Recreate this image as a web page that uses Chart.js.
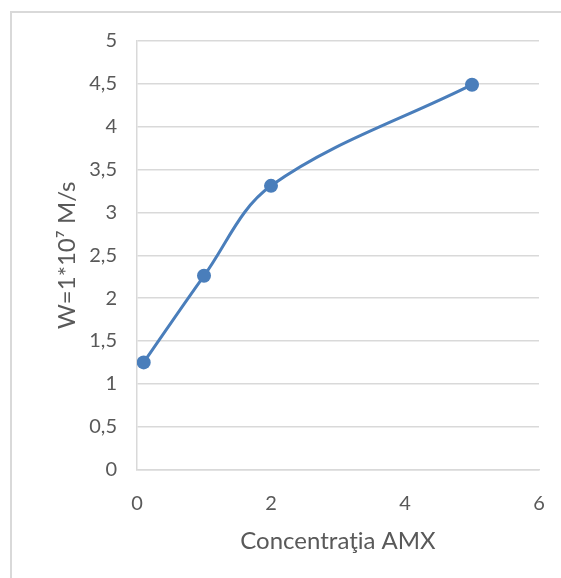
<!DOCTYPE html>
<html>
<head>
<meta charset="utf-8">
<script src="https://cdn.jsdelivr.net/npm/chart.js@4/dist/chart.umd.min.js"></script>
<style>
  html, body { margin: 0; padding: 0; background: #fff; overflow: hidden; }
  #frame {
    position: absolute; left: 10px; top: 11px; width: 620px; height: 640px;
    border: 2px solid #d9d9d9; box-sizing: border-box;
  }
  #wrap { position: absolute; left: 0; top: 0; width: 561px; height: 578px; }
</style>
</head>
<body>
<div id="frame"></div>
<div id="wrap"><canvas id="c" width="561" height="578"></canvas></div>
<script>
// Reaction rate versus AMX concentration
const concentration = [0.1, 1, 2, 5];
const rate = [1.25, 2.26, 3.31, 4.49];
const xTicks = [0, 2, 4, 6];
const yTicks = [0, 0.5, 1, 1.5, 2, 2.5, 3, 3.5, 4, 4.5, 5];

const points = concentration.map((x, i) => ({ x: x, y: rate[i] }));
const FONT = 'Lato, "Open Sans", sans-serif';
const blue = '#4a7ebb';
const textGray = '#595959';
const gridGray = '#d9d9d9';

new Chart(document.getElementById('c'), {
  type: 'scatter',
  data: {
    datasets: [{
      data: points,
      showLine: true,
      borderColor: blue,
      backgroundColor: blue,
      borderWidth: 3,
      pointRadius: 7,
      pointHoverRadius: 7,
      pointBorderWidth: 0,
      tension: 0.35
    }]
  },
  options: {
    responsive: false,
    animation: false,
    devicePixelRatio: 1,
    layout: { padding: { top: 41, right: 0, left: 0, bottom: 0 } },
    plugins: { legend: { display: false }, tooltip: { enabled: false } },
    scales: {
      x: {
        type: 'linear',
        min: 0, max: 6,
        afterBuildTicks: s => { s.ticks = xTicks.map(v => ({ value: v })); },
        afterFit: s => { s.height = 108.5; s.paddingRight = 22; s.paddingLeft = 0; },
        grid: { display: false, drawTicks: false },
        border: { display: true, color: gridGray, width: 1.5 },
        ticks: { color: textGray, font: { family: FONT, size: 20 }, padding: 22, maxRotation: 0 },
        title: {
          display: true, text: 'Concentraţia AMX', color: textGray,
          font: { family: FONT, size: 24 }, padding: { top: 0, bottom: 22.5 }
        }
      },
      y: {
        type: 'linear',
        min: 0, max: 5,
        afterBuildTicks: s => { s.ticks = yTicks.map(v => ({ value: v })); },
        afterFit: s => { s.width = 137; },
        grid: { color: gridGray, lineWidth: 1.5, drawTicks: false },
        border: { display: true, color: gridGray, width: 1.5 },
        ticks: {
          color: textGray, font: { family: FONT, size: 20 }, padding: 20,
          callback: v => String(v).replace('.', ',')
        },
        title: {
          display: true, text: 'W=1*10⁷ M/s', color: textGray,
          font: { family: FONT, size: 24 }, padding: { top: 52.5, bottom: 0 }
        }
      }
    }
  }
});
</script>
</body>
</html>
